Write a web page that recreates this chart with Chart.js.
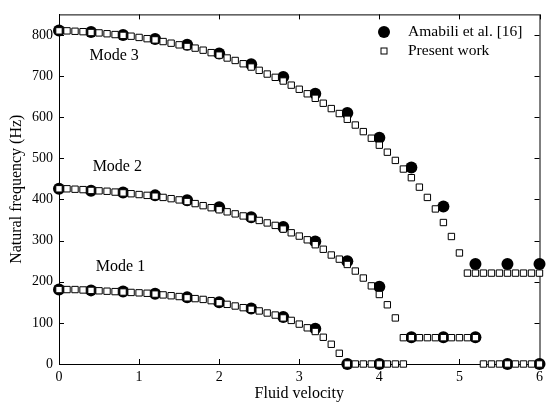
<!DOCTYPE html>
<html>
<head>
<meta charset="utf-8">
<script src="https://cdn.jsdelivr.net/npm/chart.js@4/dist/chart.umd.min.js"></script>
<style>
html,body{margin:0;padding:0;background:#fff;}
#wrap{width:548px;height:405px;}
</style>
</head>
<body>
<div id="wrap"><canvas id="c" width="548" height="405"></canvas></div>
<script>
// ---- data ----
const velocity = [0,0.1,0.2,0.3,0.4,0.5,0.6,0.7,0.8,0.9,1.0,1.1,1.2,1.3,1.4,1.5,1.6,1.7,1.8,1.9,2.0,2.1,2.2,2.3,2.4,2.5,2.6,2.7,2.8,2.9,3.0,3.1,3.2,3.3,3.4,3.5,3.6,3.7,3.8,3.9,4.0,4.1,4.2,4.3,4.4,4.5,4.6,4.7,4.8,4.9,5.0,5.1,5.2,5.3,5.4,5.5,5.6,5.7,5.8,5.9,6.0];
const presentMode1 = [181,181,181,180,179,178,177,176,175,174,173,172,170,168,166,164,161,159,157,154,149,145,141,137,133,129,124,119,112,106,97,88,79,65,48,26,0,0,0,0,0,0,0,0,null,null,null,null,null,null,null,null,null,0,0,0,0,0,0,0,0];
const presentMode2 = [426,426,425,424,422,421,420,418,416,414,412,410,408,405,402,399,395,390,385,380,375,370,365,360,355,349,343,337,328,319,311,302,290,279,265,255,242,226,209,190,169,144,112,64,64,64,64,64,64,64,64,64,64,null,null,null,null,null,null,null,null];
const presentMode3 = [810,810,809,808,806,805,803,801,799,797,794,791,788,784,780,776,772,768,763,757,751,744,738,730,722,714,705,697,688,678,668,657,646,634,621,609,595,581,565,549,532,515,495,474,453,430,405,377,344,310,270,221,221,221,221,221,221,221,221,221,221];

const amabiliVelocity = [0,0.4,0.8,1.2,1.6,2.0,2.4,2.8,3.2,3.6,4.0,4.4,4.8,5.2,5.6,6.0];
const amabiliMode1 = [181,179,176,171,162,150,135,114,86,0,0,null,null,null,0,0];
const amabiliMode2 = [426,421,417,410,398,381,357,333,298,250,188,65,65,65,null,null];
const amabiliMode3 = [811,807,800,790,776,755,729,698,657,610,550,478,383,243,243,243];

const xTicks = [0,1,2,3,4,5,6];
const yTicks = [0,100,200,300,400,500,600,700,800];

const seriesNames = ['Amabili et al. [16]', 'Present work'];
const modeLabels = [
  {text:'Mode 3', x:0.38, y:750},
  {text:'Mode 2', x:0.42, y:479},
  {text:'Mode 1', x:0.46, y:236}
];

// ---- build points ----
function toPoints(xs, ...ys) {
  const pts = [];
  ys.forEach(arr => arr.forEach((v, i) => { if (v !== null) pts.push({x: xs[i], y: v}); }));
  return pts;
}
const presentPts = toPoints(velocity, presentMode1, presentMode2, presentMode3);
const amabiliPts = toPoints(amabiliVelocity, amabiliMode1, amabiliMode2, amabiliMode3);

const FONT = 'Liberation Serif';

const framePlugin = {
  id: 'frame',
  beforeDatasetsDraw(chart) {
    const {ctx, chartArea: a, scales: {x, y}} = chart;
    ctx.save();
    ctx.strokeStyle = '#000';
    ctx.lineWidth = 1;
    ctx.beginPath();
    ctx.rect(a.left + 0.5, a.top + 0.5, a.right - a.left, a.bottom - a.top);
    ctx.stroke();
    const L = 5;
    ctx.beginPath();
    xTicks.forEach(v => {
      const px = Math.round(x.getPixelForValue(v)) + 0.5;
      ctx.moveTo(px, a.bottom); ctx.lineTo(px, a.bottom - L);
      ctx.moveTo(px, a.top); ctx.lineTo(px, a.top + L);
    });
    yTicks.forEach(v => {
      const py = Math.round(y.getPixelForValue(v)) + 0.5;
      ctx.moveTo(a.left, py); ctx.lineTo(a.left + L, py);
      ctx.moveTo(a.right, py); ctx.lineTo(a.right - L, py);
    });
    ctx.stroke();
    ctx.restore();
  },
  afterDatasetsDraw(chart) {
    const {ctx, scales: {x, y}} = chart;
    ctx.save();
    ctx.fillStyle = '#000';
    ctx.font = '16px "' + FONT + '"';
    ctx.textAlign = 'left';
    ctx.textBaseline = 'middle';
    modeLabels.forEach(m => ctx.fillText(m.text, x.getPixelForValue(m.x), y.getPixelForValue(m.y)));
    // legend
    const lx = 384, ly1 = 32, ly2 = 51;
    ctx.beginPath();
    ctx.arc(lx, ly1, 6, 0, Math.PI * 2);
    ctx.fill();
    ctx.fillStyle = '#fff';
    ctx.strokeStyle = '#000';
    ctx.lineWidth = 1;
    ctx.fillRect(lx - 3, ly2 - 3, 6, 6);
    ctx.strokeRect(lx - 3, ly2 - 3, 6, 6);
    ctx.fillStyle = '#000';
    ctx.font = '15.5px "' + FONT + '"';
    ctx.fillText(seriesNames[0], 408, ly1);
    ctx.fillText(seriesNames[1], 408, ly2);
    ctx.restore();
  }
};

new Chart(document.getElementById('c'), {
  type: 'scatter',
  data: {
    datasets: [
      {
        label: seriesNames[1],
        data: presentPts,
        pointStyle: 'rect',
        pointRadius: 4.5,
        pointBackgroundColor: '#fff',
        pointBorderColor: '#000',
        pointBorderWidth: 1,
        clip: false,
        order: 0
      },
      {
        label: seriesNames[0],
        data: amabiliPts,
        pointStyle: 'circle',
        pointRadius: 6,
        pointBackgroundColor: '#000',
        pointBorderColor: '#000',
        pointBorderWidth: 0,
        clip: false,
        order: 1
      }
    ]
  },
  options: {
    responsive: false,
    animation: false,
    devicePixelRatio: 1,
    layout: { autoPadding: false, padding: { top: 7, right: 2, left: 0, bottom: 0 } },
    plugins: { legend: { display: false }, tooltip: { enabled: false } },
    scales: {
      x: {
        type: 'linear', min: 0, max: 6,
        afterFit: s => { s.height = 41; },
        ticks: { stepSize: 1, padding: 5, color: '#000', font: { family: FONT, size: 14 }, maxRotation: 0, includeBounds: false },
        grid: { display: false, drawTicks: false },
        border: { display: true, color: '#000', width: 1 },
        title: { display: true, text: 'Fluid velocity', color: '#000', font: { family: FONT, size: 16 }, padding: { top: 0, bottom: 2 } }
      },
      y: {
        type: 'linear', min: 0, max: 850,
        afterFit: s => { s.width = 59; },
        ticks: { stepSize: 100, padding: 6, color: '#000', font: { family: FONT, size: 14 }, includeBounds: false },
        grid: { display: false, drawTicks: false },
        border: { display: true, color: '#000', width: 1 },
        title: { display: true, text: 'Natural frequency (Hz)', color: '#000', font: { family: FONT, size: 16 }, padding: { top: 7, bottom: 0 } }
      }
    }
  },
  plugins: [framePlugin]
});
</script>
</body>
</html>
